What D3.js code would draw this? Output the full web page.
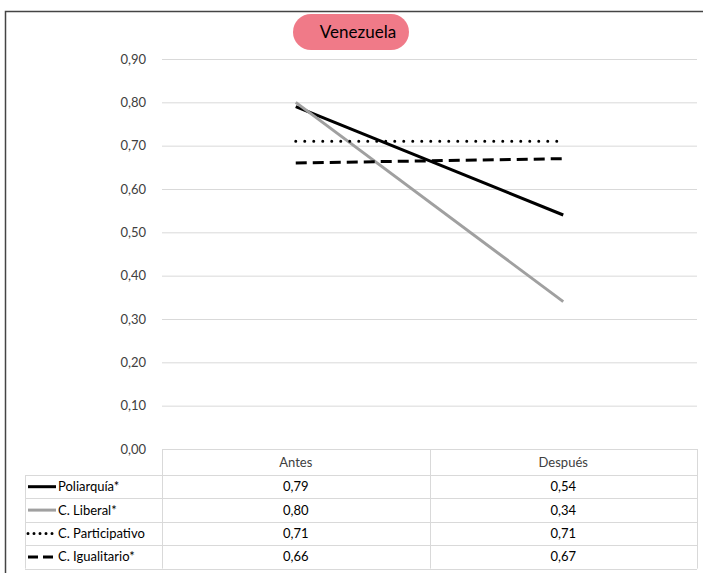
<!DOCTYPE html>
<html>
<head>
<meta charset="utf-8">
<script src="https://cdn.jsdelivr.net/npm/d3@7"></script>
<style>
  html, body { margin: 0; padding: 0; background: #fff; }
  svg { display: block; font-family: Lato, "Open Sans", sans-serif; }
</style>
</head>
<body>
<svg id="chart" width="703" height="573"></svg>
<script>
// Periods compared and index values per component
const categories = ["Antes", "Después"];
const seriesNames = ["Poliarquía*", "C. Liberal*", "C. Participativo", "C. Igualitario*"];
const poliarquia = [0.79, 0.54];
const liberal = [0.80, 0.34];
const participativo = [0.71, 0.71];
const igualitario = [0.66, 0.67];
const yTicks = [0, 0.1, 0.2, 0.3, 0.4, 0.5, 0.6, 0.7, 0.8, 0.9];
const title = "Venezuela";

const seriesValues = [poliarquia, liberal, participativo, igualitario];
const styles = [
  { color: "#000", dash: null, cap: "butt" },
  { color: "#a0a0a0", dash: null, cap: "butt" },
  { color: "#000", dash: "0,9", cap: "round" },
  { color: "#000", dash: "11,6", cap: "butt" }
];

const svg = d3.select("#chart");
const plotLeft = 162, plotRight = 697, plotTop = 59, plotBottom = 449;
const rowH = 23.4, tableLeft = 25;
const fmt = v => d3.format(".2f")(v).replace(".", ",");

// Outer frame
svg.append("path")
  .attr("d", "M5.5,573 V11.5 H703")
  .attr("fill", "none").attr("stroke", "#444").attr("stroke-width", 1.5);

const x = d3.scaleBand().domain(categories).range([plotLeft, plotRight]);
const y = d3.scaleLinear().domain([0, 0.9]).range([plotBottom, plotTop]);

// Gridlines
svg.append("g").selectAll("line").data(yTicks).join("line")
  .attr("x1", plotLeft).attr("x2", plotRight)
  .attr("y1", d => y(d) + 0.5).attr("y2", d => y(d) + 0.5)
  .attr("stroke", "#d9d9d9").attr("stroke-width", 1);

// Y axis labels
const yAxis = d3.axisLeft(y).tickValues(yTicks).tickFormat(fmt).tickSize(0).tickPadding(16);
const yg = svg.append("g").attr("transform", `translate(${plotLeft},0)`).call(yAxis);
yg.select(".domain").remove();
yg.selectAll("text").attr("font-size", 13).attr("fill", "#404040")
  .attr("font-family", "Lato, 'Open Sans', sans-serif");

// Series lines
const line = d3.line()
  .x((d, i) => x(categories[i]) + x.bandwidth() / 2)
  .y(d => y(d));
svg.append("g").selectAll("path").data(seriesValues).join("path")
  .attr("d", d => line(d))
  .attr("fill", "none")
  .attr("stroke", (d, i) => styles[i].color)
  .attr("stroke-width", 3)
  .attr("stroke-linecap", (d, i) => styles[i].cap)
  .attr("stroke-dasharray", (d, i) => styles[i].dash);

// Data table
const tbl = svg.append("g");
const gridColor = "#d9d9d9";
tbl.append("line").attr("x1", plotLeft).attr("x2", plotRight)
  .attr("y1", plotBottom + 0.5).attr("y2", plotBottom + 0.5).attr("stroke", gridColor);
const rowsTop = plotBottom + 26;
const rowYs = d3.range(seriesNames.length + 1).map(i => rowsTop + i * rowH);
rowYs.forEach(ry => {
  tbl.append("line").attr("x1", tableLeft).attr("x2", plotRight)
    .attr("y1", Math.round(ry) + 0.5).attr("y2", Math.round(ry) + 0.5).attr("stroke", gridColor);
});
tbl.append("line").attr("x1", tableLeft + 0.5).attr("x2", tableLeft + 0.5)
  .attr("y1", rowsTop).attr("y2", rowYs[rowYs.length - 1]).attr("stroke", gridColor);
[plotLeft, plotLeft + x.bandwidth(), plotRight].forEach(vx => {
  tbl.append("line").attr("x1", Math.round(vx) + 0.5).attr("x2", Math.round(vx) + 0.5)
    .attr("y1", plotBottom).attr("y2", rowYs[rowYs.length - 1]).attr("stroke", gridColor);
});
// header labels
tbl.selectAll("text.hdr").data(categories).join("text").attr("class", "hdr")
  .attr("x", d => x(d) + x.bandwidth() / 2)
  .attr("y", plotBottom + 13)
  .attr("dy", "0.35em")
  .attr("text-anchor", "middle").attr("font-size", 13).attr("fill", "#404040")
  .text(d => d);
// rows: legend key, name and values
seriesNames.forEach((name, i) => {
  const cy = rowsTop + i * rowH + rowH / 2;
  const st = styles[i];
  tbl.append("line")
    .attr("x1", tableLeft + 3).attr("x2", tableLeft + 31)
    .attr("y1", cy).attr("y2", cy)
    .attr("stroke", st.color).attr("stroke-width", 3)
    .attr("stroke-linecap", st.cap)
    .attr("stroke-dasharray", st.dash ? (i === 2 ? "0,6" : "10,5") : null);
  tbl.append("text").attr("x", tableLeft + 33).attr("y", cy).attr("dy", "0.35em")
    .attr("font-size", 13).attr("fill", "#000").text(name);
  seriesValues[i].forEach((v, j) => {
    tbl.append("text")
      .attr("x", x(categories[j]) + x.bandwidth() / 2)
      .attr("y", cy).attr("dy", "0.35em")
      .attr("text-anchor", "middle").attr("font-size", 13).attr("fill", "#000")
      .text(fmt(v));
  });
});

// Title pill
const tg = svg.append("g");
tg.append("rect").attr("x", 293).attr("y", 14).attr("width", 116).attr("height", 36)
  .attr("rx", 18).attr("fill", "#f07a88");
tg.append("text").attr("x", 358).attr("y", 32).attr("dy", "0.35em")
  .attr("text-anchor", "middle").attr("font-size", 17).attr("fill", "#000").text(title);
</script>
</body>
</html>
